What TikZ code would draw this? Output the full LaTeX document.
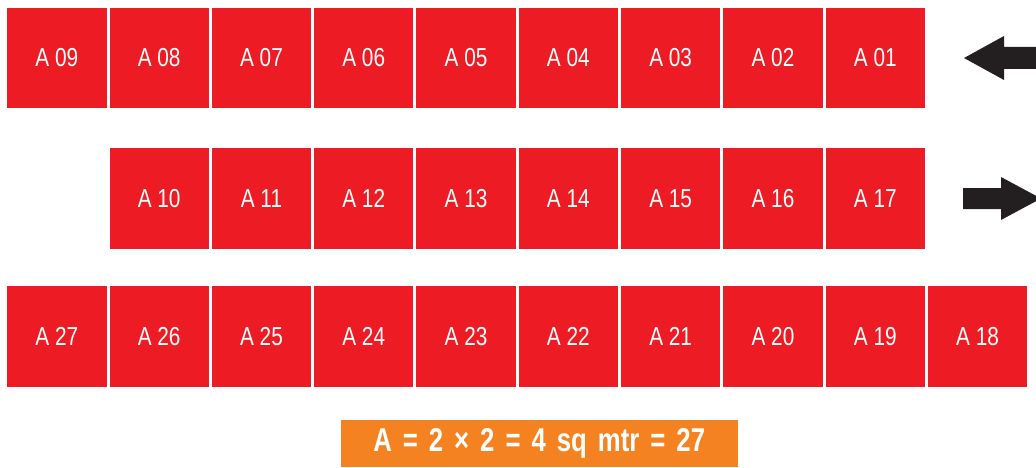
\documentclass[tikz,border=0pt]{standalone}
\usepackage{fontspec}
\setmainfont{Liberation Sans}
\newfontfamily\boxfont[FakeStretch=0.8]{Liberation Sans}
\newfontfamily\noteFont[FakeStretch=0.78]{Liberation Sans Bold}
\definecolor{lotred}{HTML}{ED1C24}
\definecolor{noteorange}{HTML}{F58220}
\definecolor{arrowblack}{HTML}{231F20}
\begin{document}
\begin{tikzpicture}[x=1pt,y=-1pt,
  lot/.style={fill=lotred, draw=none, minimum width=99.3pt, minimum height=100.5pt,
    inner sep=0pt, text=white, font=\boxfont\fontsize{26}{26}\selectfont, anchor=north west},
  note/.style={fill=noteorange, draw=none, minimum width=397pt, minimum height=47pt,
    inner sep=0pt, text=white, font=\noteFont\fontsize{33}{33}\selectfont, anchor=north west},
  bigarrow/.style={fill=arrowblack, draw=none}]
\path[use as bounding box] (0,0) rectangle (1036,468);
\clip (0,0) rectangle (1036,468);
% row 1
\foreach \i/\t in {0/09,1/08,2/07,3/06,4/05,5/04,6/03,7/02,8/01}
  \node[lot] (a\t) at ({7+\i*102.3},7.5) {A \t};
% row 2
\foreach \i/\t in {1/10,2/11,3/12,4/13,5/14,6/15,7/16,8/17}
  \node[lot] (a\t) at ({7+\i*102.3},148) {A \t};
% row 3
\foreach \i/\t in {0/27,1/26,2/25,3/24,4/23,5/22,6/21,7/20,8/19,9/18}
  \node[lot] (a\t) at ({7+\i*102.3},286) {A \t};
% arrows
\fill[bigarrow] (964,58) -- (1004,36) -- (1004,47) -- (1040,47) -- (1040,69)
  -- (1004,69) -- (1004,80) -- cycle;
\fill[bigarrow] (963,188) -- (1001,188) -- (1001,177) -- (1041,198.5) -- (1001,220)
  -- (1001,209) -- (963,209) -- cycle;
% note
\node[note] (note) at (340.5,420) {A\,\,=\,\,2\,\,×\,\,2\,\,=\,\,4\,\,sq\,\,mtr\,\,=\,\,27};
\end{tikzpicture}
\end{document}
